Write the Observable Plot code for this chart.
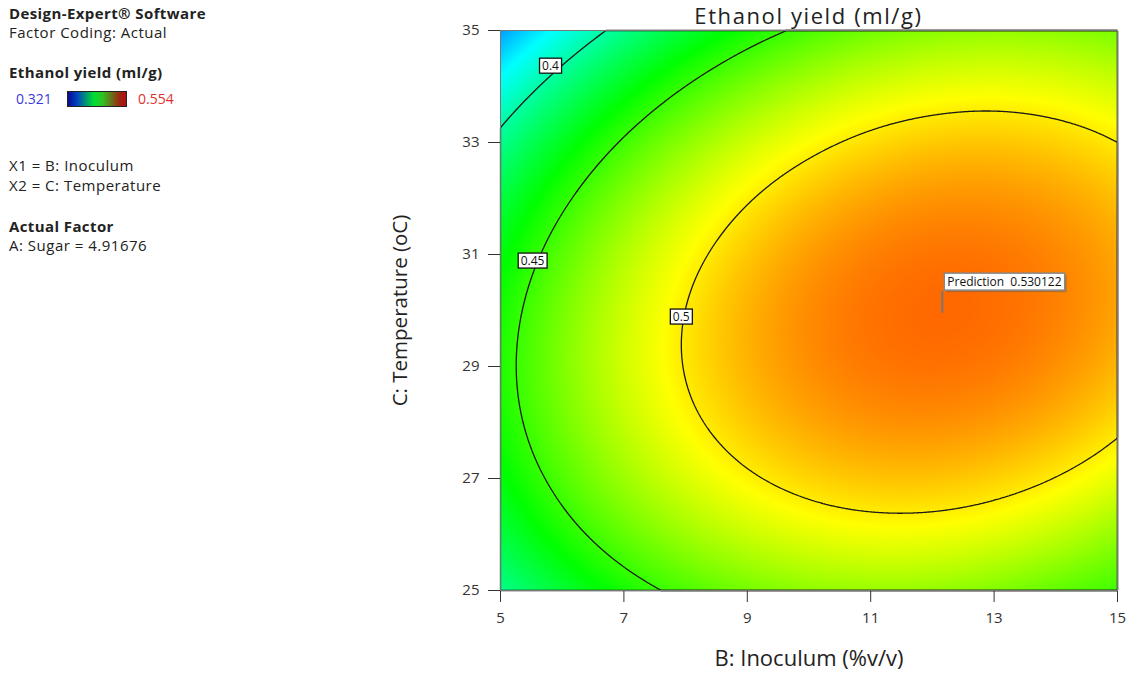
<!DOCTYPE html>
<html>
<head>
<meta charset="utf-8">
<script src="https://cdn.jsdelivr.net/npm/d3@7"></script>
<script src="https://cdn.jsdelivr.net/npm/@observablehq/plot@0.6"></script>
<style>
  html, body { margin: 0; padding: 0; background: #fff; }
  #wrap { position: relative; width: 1130px; height: 675px; overflow: hidden; font-family: "Open Sans", sans-serif; color: #222; }
  .side { position: absolute; left: 9px; font-size: 15px; line-height: 15px; letter-spacing: 0.5px; white-space: nowrap; }
  .num { font-size: 14px; line-height: 14px; letter-spacing: 0; }
  .b { font-weight: bold; letter-spacing: 0.4px; }
  #title { position: absolute; left: 500px; width: 617px; text-align: center; top: 0px; font-size: 22px; line-height: normal; letter-spacing: 1.6px; color: #222; }
  #chart { position: absolute; left: 370px; top: 0; }
  #bar { position: absolute; left: 67px; top: 91px; width: 58px; height: 14px; border: 1px solid #222;
         background: linear-gradient(to right, #0a0a90 0%, #0040c0 15%, #00e030 45%, #30c020 60%, #a02010 90%, #b01010 100%); }
</style>
</head>
<body>
<div id="wrap">
  <div class="side b" style="top:6px">Design-Expert® Software</div>
  <div class="side" style="top:25px">Factor Coding: Actual</div>
  <div class="side b" style="top:65px">Ethanol yield (ml/g)</div>
  <div class="side num" style="top:92px;left:16px;color:#3a3ad8">0.321</div>
  <div id="bar"></div>
  <div class="side num" style="top:92px;left:138px;color:#e03030">0.554</div>
  <div class="side" style="top:158px">X1 = B: Inoculum</div>
  <div class="side" style="top:178px">X2 = C: Temperature</div>
  <div class="side b" style="top:219px">Actual Factor</div>
  <div class="side" style="top:238px">A: Sugar = 4.91676</div>
  <div id="chart"></div>
  <div id="title">Ethanol yield (ml/g)</div>
</div>
<script>
// ---- data ----
const inoculum = [5, 6, 7, 8, 9, 10, 11, 12, 13, 14, 15];          // B (%v/v)
const temperature = [25, 26, 27, 28, 29, 30, 31, 32, 33, 34, 35];  // C (oC)
// ethanol yield (ml/g) along inoculum, one row per temperature
const yieldAt25 = [0.4059, 0.4256, 0.4418, 0.4546, 0.4639, 0.4698, 0.4723, 0.4713, 0.4669, 0.4595, 0.4518];
const yieldAt26 = [0.4226, 0.4430, 0.4599, 0.4733, 0.4833, 0.4899, 0.4930, 0.4927, 0.4889, 0.4817, 0.4711];
const yieldAt27 = [0.4346, 0.4555, 0.4731, 0.4872, 0.4979, 0.5051, 0.5089, 0.5092, 0.5061, 0.4996, 0.4896];
const yieldAt28 = [0.4417, 0.4633, 0.4815, 0.4963, 0.5076, 0.5155, 0.5200, 0.5210, 0.5185, 0.5127, 0.5033];
const yieldAt29 = [0.4440, 0.4663, 0.4852, 0.5006, 0.5126, 0.5211, 0.5262, 0.5279, 0.5261, 0.5209, 0.5123];
const yieldAt30 = [0.4415, 0.4645, 0.4840, 0.5001, 0.5128, 0.5220, 0.5277, 0.5301, 0.5289, 0.5244, 0.5164];
const yieldAt31 = [0.4343, 0.4579, 0.4781, 0.4948, 0.5081, 0.5180, 0.5244, 0.5274, 0.5269, 0.5230, 0.5157];
const yieldAt32 = [0.4222, 0.4465, 0.4673, 0.4847, 0.4987, 0.5092, 0.5163, 0.5199, 0.5201, 0.5169, 0.5102];
const yieldAt33 = [0.4053, 0.4303, 0.4518, 0.4698, 0.4845, 0.4956, 0.5034, 0.5077, 0.5086, 0.5060, 0.5000];
const yieldAt34 = [0.3836, 0.4092, 0.4314, 0.4501, 0.4654, 0.4773, 0.4857, 0.4906, 0.4922, 0.4902, 0.4849];
const yieldAt35 = [0.3572, 0.3834, 0.4063, 0.4255, 0.4416, 0.4541, 0.4632, 0.4688, 0.4710, 0.4697, 0.4650];

const colorDomain = [0.321, 0.554];
const contourLevels = [0.4, 0.45, 0.5];
const contourLabelInoculum = [5.81, 5.52, 7.93];
const contourLabelTemperature = [34.36, 30.88, 29.88];
const xTicks = [5, 7, 9, 11, 13, 15];
const yTicks = [25, 27, 29, 31, 33, 35];
const predInoculum = 12.16, predTemperature = 29.95, predValue = 0.530122;

// ---- surface from the read grid (smooth Catmull-Rom between samples) ----
const rows = [yieldAt25, yieldAt26, yieldAt27, yieldAt28, yieldAt29, yieldAt30,
              yieldAt31, yieldAt32, yieldAt33, yieldAt34, yieldAt35];
const nx = inoculum.length, ny = temperature.length;
function g(i, j) {
  if (j < 0) return 3 * g(i, 0) - 3 * g(i, 1) + g(i, 2);
  if (j > ny - 1) return 3 * g(i, ny - 1) - 3 * g(i, ny - 2) + g(i, ny - 3);
  if (i < 0) return 3 * g(0, j) - 3 * g(1, j) + g(2, j);
  if (i > nx - 1) return 3 * g(nx - 1, j) - 3 * g(nx - 2, j) + g(nx - 3, j);
  return rows[j][i];
}
function cr(p0, p1, p2, p3, t) {
  return 0.5 * (2 * p1 + (-p0 + p2) * t + (2 * p0 - 5 * p1 + 4 * p2 - p3) * t * t + (-p0 + 3 * p1 - 3 * p2 + p3) * t * t * t);
}
function surface(x, y) {
  let gx = (x - inoculum[0]) / (inoculum[1] - inoculum[0]);
  let gy = (y - temperature[0]) / (temperature[1] - temperature[0]);
  gx = Math.max(0, Math.min(nx - 1, gx));
  gy = Math.max(0, Math.min(ny - 1, gy));
  const i = Math.min(Math.floor(gx), nx - 2), j = Math.min(Math.floor(gy), ny - 2);
  const tx = gx - i, ty = gy - j;
  const r = [];
  for (let k = -1; k <= 2; k++) r.push(cr(g(i - 1, j + k), g(i, j + k), g(i + 1, j + k), g(i + 2, j + k), tx));
  return cr(r[0], r[1], r[2], r[3], ty);
}

const d0 = colorDomain[0], d1 = colorDomain[1];
const colorStops = [0, 0.25, 0.5, 0.75, 1].map(t => d0 + t * (d1 - d0));

const labels = contourLevels.map((v, k) => ({v, x: contourLabelInoculum[k], y: contourLabelTemperature[k]}));
const pred = [{x: predInoculum, y: predTemperature, text: "Prediction\u00a0 " + predValue}];

const extent = {x1: inoculum[0], x2: inoculum[nx - 1], y1: temperature[0], y2: temperature[ny - 1]};

const chart = Plot.plot({
  width: 760,
  height: 675,
  marginLeft: 130,
  marginRight: 13,
  marginTop: 30,
  marginBottom: 85,
  style: {fontFamily: "Open Sans, sans-serif", fontSize: "15px", color: "#333", background: "transparent", overflow: "visible"},
  x: {domain: [extent.x1, extent.x2], ticks: xTicks, tickSize: 12, tickPadding: 10, label: null},
  y: {domain: [extent.y1, extent.y2], ticks: yTicks, tickSize: 12, tickPadding: 9, label: null},
  color: {type: "linear", domain: colorStops, range: ["#0000ff", "#00ffff", "#00ff00", "#ffff00", "#ff0000"], interpolate: "rgb"},
  marks: [
    Plot.raster({...extent, fill: surface, pixelSize: 1}),
    Plot.contour({...extent, value: surface, thresholds: contourLevels, stroke: "#1a1a1a", strokeWidth: 1.3, fill: "none", pixelSize: 1}),
    Plot.frame({stroke: "#777"}),
    Plot.text(labels, {x: "x", y: "y", text: d => String(d.v), fontSize: 12, fill: "#111", ariaDescription: "contour-labels"}),
    Plot.ruleX(pred, {x: "x", y1: "y", y2: "y", insetTop: -22, stroke: "#777", strokeWidth: 2}),
    Plot.text(pred, {x: "x", y: "y", text: "text", dx: 5, dy: -31, textAnchor: "start", fontSize: 12, fill: "#111", ariaDescription: "prediction-label"}),
    Plot.text(["B: Inoculum (%v/v)"], {frameAnchor: "bottom", dy: 75, fontSize: 22, fill: "#222"}),
    Plot.text(["C: Temperature (oC)"], {frameAnchor: "left", textAnchor: "middle", dx: -100, rotate: -90, fontSize: 20.5, fill: "#222"})
  ]
});
document.getElementById("chart").appendChild(chart);

// boxes behind the labels
const NS = "http://www.w3.org/2000/svg";
function boxes(desc, pad, stroke, sw, shadow) {
  chart.querySelectorAll(`g[aria-description="${desc}"] text`).forEach(t => {
    const bb = t.getBBox();
    const tr = t.getAttribute("transform");
    if (shadow) {
      const s = document.createElementNS(NS, "rect");
      s.setAttribute("x", bb.x - pad[0] + 2); s.setAttribute("y", bb.y - pad[1] + 2);
      s.setAttribute("width", bb.width + 2 * pad[0]); s.setAttribute("height", bb.height + 2 * pad[1]);
      s.setAttribute("fill", "rgba(90,90,90,0.45)");
      if (tr) s.setAttribute("transform", tr);
      t.parentNode.insertBefore(s, t);
    }
    const r = document.createElementNS(NS, "rect");
    r.setAttribute("x", bb.x - pad[0]); r.setAttribute("y", bb.y - pad[1]);
    r.setAttribute("width", bb.width + 2 * pad[0]); r.setAttribute("height", bb.height + 2 * pad[1]);
    r.setAttribute("fill", "#fff"); r.setAttribute("stroke", stroke); r.setAttribute("stroke-width", sw);
    if (tr) r.setAttribute("transform", tr);
    t.parentNode.insertBefore(r, t);
  });
}
boxes("contour-labels", [2.5, -1], "#111", 1.3, false);
boxes("prediction-label", [3, 0], "#888", 1.5, true);
</script>
</body>
</html>
